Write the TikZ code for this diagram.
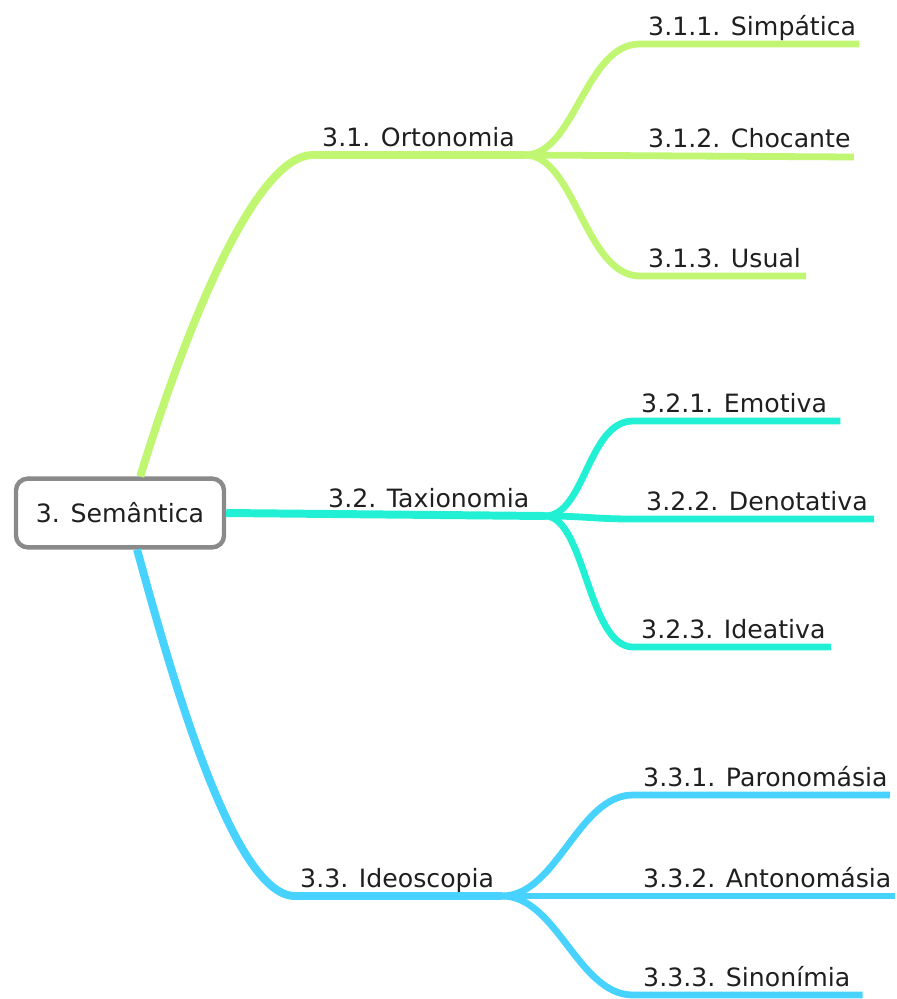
\documentclass[tikz,border=0pt]{standalone}
\usepackage{fontspec}
\setmainfont{DejaVu Sans}
\usepackage{tikz}
\definecolor{ortgreen}{HTML}{C0F672}
\definecolor{taxteal}{HTML}{22F0D4}
\definecolor{ideblue}{HTML}{48D2FF}
\definecolor{boxgray}{HTML}{8A8A8A}
\begin{document}
\begin{tikzpicture}[x=0.03cm,y=-0.03cm,
  topic/.style={font=\fontsize{21.5}{26}\selectfont,text=black!88,inner sep=0pt,anchor=base west},
  branch/.style={line width=6.8pt},
  twig/.style={line width=5.8pt}]
\useasboundingbox(0,0)rectangle(897,999);
% central topic
\node[draw=boxgray,line width=3.8pt,rounded corners=10pt,fill=white,
  minimum width=6.24cm,minimum height=2.06cm,
  font=\fontsize{21.5}{26}\selectfont,text=black!88](sem)at(120,513){3. Semântica};
% main topics
\node[topic](ort)at(322,146){3.1. Ortonomia};
\node[topic](tax)at(328,507){3.2. Taxionomia};
\node[topic](ide)at(300,887){3.3. Ideoscopia};
\coordinate(jort)at(525,155);
\coordinate(jtax)at(545,516);
\coordinate(jide)at(502,896);
\draw[branch,ortgreen](sem.61)..controls(185,330)and(255,155)..(313,155)--(jort);
\draw[branch,taxteal](sem.east)--(jtax);
\draw[branch,ideblue](sem.-65)..controls(165,650)and(230,896)..(295,896)--(jide);
% subtopics 3.1
\node[topic](simp)at(648,35){3.1.1. Simpática};
\node[topic](choc)at(648,147){3.1.2. Chocante};
\node[topic](usua)at(648,267){3.1.3. Usual};
\draw[twig,ortgreen](jort)..controls+(50,0)and+(-55,0)..([shift={(-8,9)}]simp.base west)--([shift={(3,9)}]simp.base east);
\draw[twig,ortgreen](jort)--([shift={(3,10)}]choc.base east);
\draw[twig,ortgreen](jort)..controls+(50,0)and+(-55,0)..([shift={(-8,9)}]usua.base west)--([shift={(5,9)}]usua.base east);
% subtopics 3.2
\node[topic](emot)at(641,412){3.2.1. Emotiva};
\node[topic](deno)at(646,510){3.2.2. Denotativa};
\node[topic](idea)at(641,638){3.2.3. Ideativa};
\draw[twig,taxteal](jtax)..controls+(40,0)and+(-45,0)..([shift={(-8,9)}]emot.base west)--([shift={(13,9)}]emot.base east);
\draw[twig,taxteal](jtax)..controls+(40,0)and+(-40,0)..([shift={(-13,9)}]deno.base west)--([shift={(6,9)}]deno.base east);
\draw[twig,taxteal](jtax)..controls+(40,0)and+(-45,0)..([shift={(-8,9)}]idea.base west)--([shift={(5,9)}]idea.base east);
% subtopics 3.3
\node[topic](paro)at(643,786){3.3.1. Paronomásia};
\node[topic](anto)at(643,887){3.3.2. Antonomásia};
\node[topic](sino)at(643,986){3.3.3. Sinonímia};
\draw[twig,ideblue](jide)..controls+(55,0)and+(-55,0)..([shift={(-10,9)}]paro.base west)--([shift={(2,9)}]paro.base east);
\draw[twig,ideblue](jide)--([shift={(3,9)}]anto.base east);
\draw[twig,ideblue](jide)..controls+(55,0)and+(-55,0)..([shift={(-10,9)}]sino.base west)--([shift={(12,9)}]sino.base east);
\end{tikzpicture}
\end{document}
